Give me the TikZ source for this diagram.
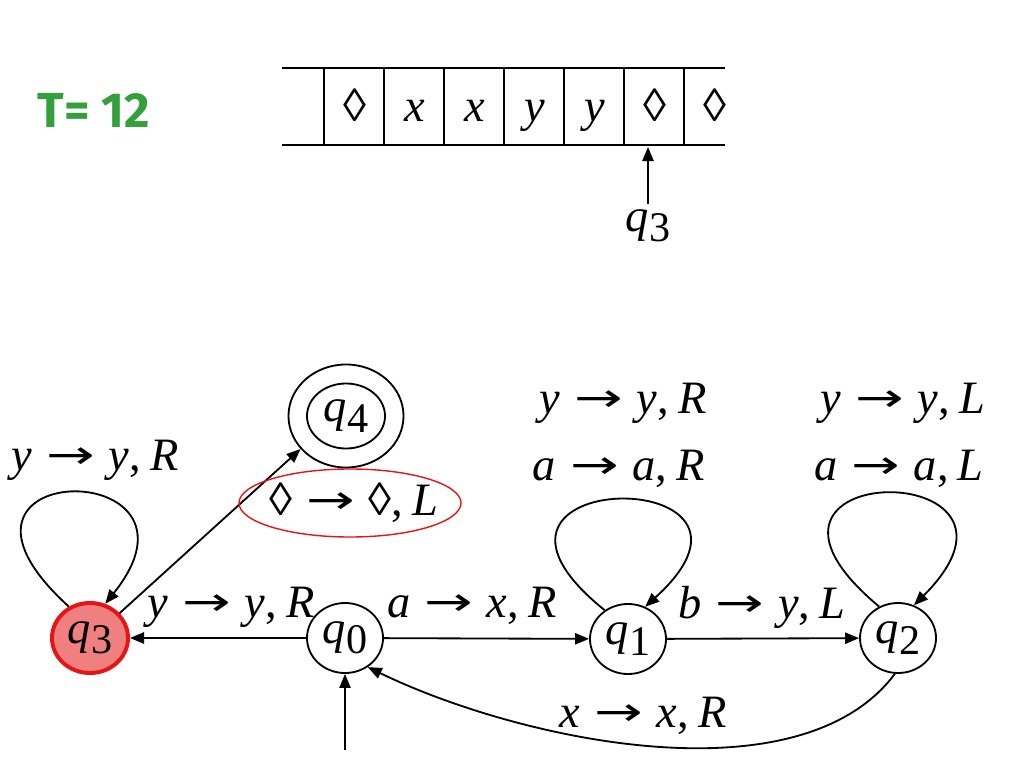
\documentclass[tikz,border=0pt]{standalone}
\usepackage{fontspec}
\setmainfont{Liberation Serif}
\newfontfamily\tfont{Fira Sans}
\newfontfamily\afont{DejaVu Sans}
\usetikzlibrary{shapes.geometric,arrows.meta}

\definecolor{tgreen}{RGB}{51,160,60}
\definecolor{qfill}{RGB}{240,128,128}
\definecolor{qred}{RGB}{230,20,20}
\newcommand{\qs}[1]{\textit{q}\raisebox{-.22em}{\fontsize{30}{30}\selectfont #1}}
\newcommand{\tr}[3]{\textit{#1}\hspace{.3em}{\afont\raisebox{.04em}{\scalebox{1.25}[0.85]{→}}}\hspace{.3em}\textit{#2},\hspace{.2em}\textit{#3}}
\newcommand{\dm}{{\upshape ◊}}

\begin{document}
\begin{tikzpicture}[x=0.025cm,y=-0.025cm,line width=1.3pt,>={Triangle[length=10pt,width=8pt]},
  every node/.style={font=\fontsize{33}{36}\selectfont},
  stnode/.style={draw,ellipse,inner sep=0pt,minimum width=1.9cm,minimum height=1.75cm},
  lbl/.style={anchor=base}]
\useasboundingbox (0,0) rectangle (1024,768);

\node[text=tgreen,font=\tfont\bfseries\fontsize{35}{36}\selectfont] (time) at (94,110) {T= 12};

% tape
\draw[line width=1pt] (282,68) -- (725,68) (282,145) -- (725,145);
\foreach \x in {324,384,...,684} \draw[line width=1pt] (\x,68) -- (\x,145);
\foreach \x/\s in {355/\dm,415/x,475/x,535/y,595/y,655/\dm,715/\dm}
  \node[lbl] at (\x,122) {\textit{\s}};
\coordinate (cell) at (648,147);
\node[lbl] (head) at (648,231) {\qs{3}};
\draw[->] (head.north) -- (cell);

% states
\node[stnode,fill=qfill,draw=qred,line width=2.8pt] (q3) at (90,638) {\qs{3}};
\node[stnode] (q0) at (345,638) {\qs{0}};
\node[stnode] (q1) at (628,639) {\qs{1}};
\node[stnode] (q2) at (898,638) {\qs{2}};
\node[stnode,minimum width=2.875cm,minimum height=2.575cm] (q4) at (346,416) {\qs{4}};
\node[stnode,minimum width=1.95cm,minimum height=1.625cm] (q4in) at (q4) {};
\coordinate (init) at (345,750);

% transitions
\draw[->] (init) -- (q0);
\draw[->] (q0) -- (q3);
\draw[->] (q0) -- (q1);
\draw[->] (q1) -- (q2);
\draw[->] (q3.40) -- (q4.216);
\draw[->] (q2.265) .. controls +(-95,127) and +(153,74) .. (q0.-52);
\draw[->] (q3.124) .. controls +(-165,-150) and +(120,-150) .. (q3.66);
\draw[->] (q1.129) .. controls +(-180,-145) and +(160,-145) .. (q1.62);
\draw[->] (q2.121) .. controls +(-180,-150) and +(150,-150) .. (q2.64);

\node[lbl] (l33) at (95,470) {\tr{y}{y}{R}};
\node[lbl] (l03) at (231,617) {\tr{y}{y}{R}};
\node[lbl] (l01) at (472,617) {\tr{a}{x}{R}};
\node[lbl] (l12) at (762,618) {\tr{b}{y}{L}};
\node[lbl] (l11a) at (623,413) {\tr{y}{y}{R}};
\node[lbl] (l11b) at (619,480) {\tr{a}{a}{R}};
\node[lbl] (l22a) at (903,413) {\tr{y}{y}{L}};
\node[lbl] (l22b) at (899,480) {\tr{a}{a}{L}};
\node[lbl] (l20) at (643,727) {\tr{x}{x}{R}};
\node[lbl] (l34) at (354,515) {\tr{\dm}{\dm}{L}};
\node[draw=qred,line width=1pt,ellipse,minimum width=5.55cm,minimum height=1.7cm] (mark) at (350,503) {};
\end{tikzpicture}
\end{document}
